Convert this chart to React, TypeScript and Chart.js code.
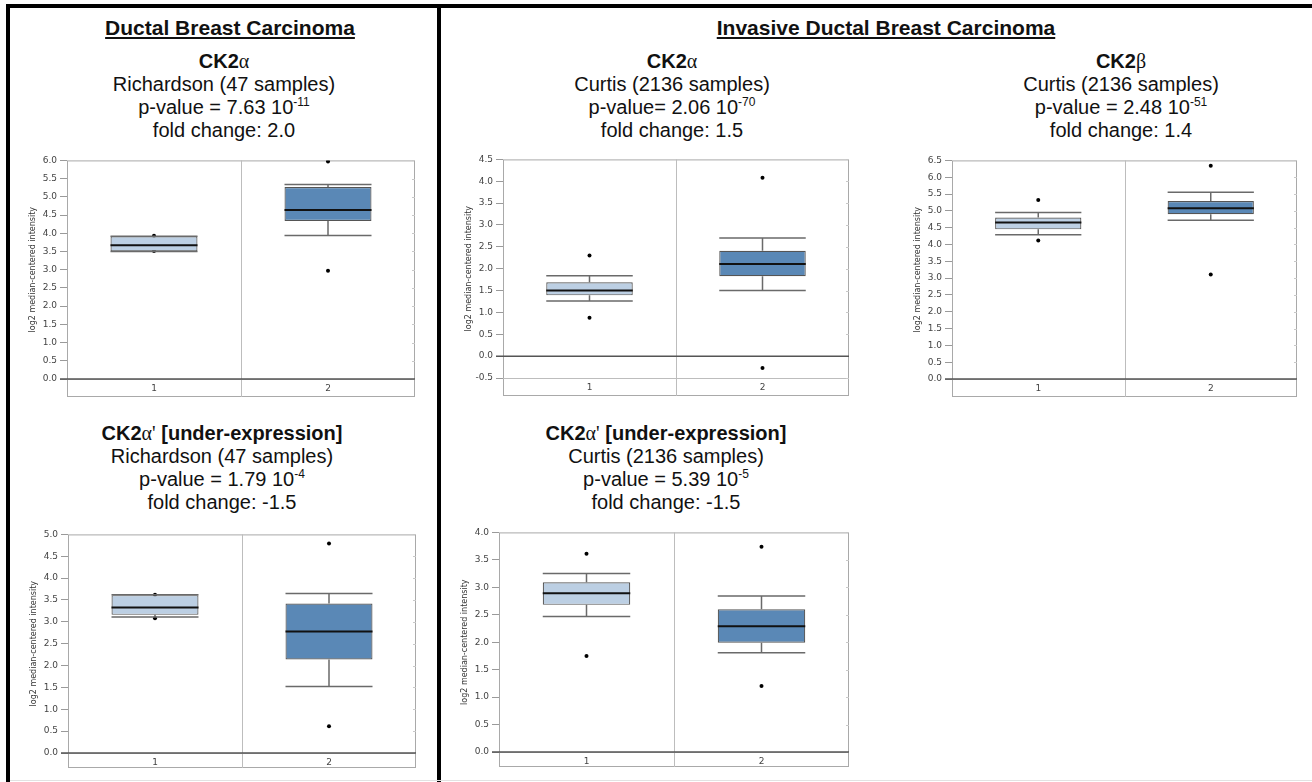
import React, { useEffect, useRef } from 'react';
import { Chart, registerables } from 'chart.js';

Chart.register(...registerables);

const CATEGORIES = ['1', '2'];

// Five-number summaries per group: [lower whisker, q1, median, q3, upper whisker]
const RICH_A_G1 = [3.5, 3.5, 3.67, 3.92, 3.92];
const RICH_A_G2 = [3.94, 4.34, 4.64, 5.27, 5.34];
const RICH_A_OUT_HIGH = [3.93, 5.97];
const RICH_A_OUT_LOW = [3.51, 2.97];
const RICH_A_TICKS = [0, 0.5, 1, 1.5, 2, 2.5, 3, 3.5, 4, 4.5, 5, 5.5, 6];

const CURT_A_G1 = [1.26, 1.39, 1.5, 1.69, 1.84];
const CURT_A_G2 = [1.5, 1.83, 2.11, 2.41, 2.7];
const CURT_A_OUT_HIGH = [2.3, 4.08];
const CURT_A_OUT_LOW = [0.88, -0.27];
const CURT_A_TICKS = [-0.5, 0, 0.5, 1, 1.5, 2, 2.5, 3, 3.5, 4, 4.5];

const CURT_B_G1 = [4.29, 4.45, 4.65, 4.8, 4.95];
const CURT_B_G2 = [4.72, 4.9, 5.08, 5.29, 5.55];
const CURT_B_OUT_HIGH = [5.32, 6.34];
const CURT_B_OUT_LOW = [4.12, 3.11];
const CURT_B_TICKS = [0, 0.5, 1, 1.5, 2, 2.5, 3, 3.5, 4, 4.5, 5, 5.5, 6, 6.5];

const RICH_AP_G1 = [3.11, 3.16, 3.33, 3.61, 3.62];
const RICH_AP_G2 = [1.52, 2.14, 2.78, 3.42, 3.65];
const RICH_AP_OUT_HIGH = [3.62, 4.79];
const RICH_AP_OUT_LOW = [3.08, 0.61];
const RICH_AP_TICKS = [0, 0.5, 1, 1.5, 2, 2.5, 3, 3.5, 4, 4.5, 5];

const CURT_AP_G1 = [2.47, 2.68, 2.89, 3.09, 3.25];
const CURT_AP_G2 = [1.81, 1.99, 2.29, 2.6, 2.84];
const CURT_AP_OUT_HIGH = [3.61, 3.74];
const CURT_AP_OUT_LOW = [1.75, 1.2];
const CURT_AP_TICKS = [0, 0.5, 1, 1.5, 2, 2.5, 3, 3.5, 4];

const Y_TITLE = 'log2 median-centered intensity';
const BOX_FILLS = ['#bccfe3', '#5a88b6'];

const SANS = '"Liberation Sans", Arial, sans-serif';
const GREEK = '"Liberation Serif", "DejaVu Serif", serif';
const AXIS_FONT = '"DejaVu Sans", sans-serif';

const Y_AXIS_W = 39;
const PAD = { left: 2, top: 8, right: 4, bottom: 3 };
const TICK_LEN = 7;

type Frame = { left: number; right: number; top: number; bottom: number; strip: number };

type BoxProps = {
  groups: number[][];
  outHigh: number[];
  outLow: number[];
  ticks: number[];
  frame: Frame;
};

// Frame, divider, zero line, whiskers and medians
const boxPlotPlugin = {
  id: 'boxPlotDecor',
  beforeDatasetsDraw(chart: any, _args: any, opts: any) {
    const { ctx, chartArea } = chart;
    const x = chart.scales.x;
    const y = chart.scales.y;
    const strip = opts.strip;
    const bottom = chartArea.bottom + strip;
    ctx.save();
    ctx.lineWidth = 1;
    ctx.strokeStyle = '#a9a9a9';
    ctx.strokeRect(chartArea.left + 0.5, chartArea.top + 0.5, chartArea.right - chartArea.left - 1, bottom - chartArea.top - 1);
    // boundary between plot and label strip
    ctx.strokeStyle = '#bdbdbd';
    ctx.beginPath();
    ctx.moveTo(chartArea.left, Math.round(chartArea.bottom) + 0.5);
    ctx.lineTo(chartArea.right, Math.round(chartArea.bottom) + 0.5);
    ctx.stroke();
    // divider between the two groups
    const mid = Math.round((x.getPixelForValue(0) + x.getPixelForValue(1)) / 2) + 0.5;
    ctx.beginPath();
    ctx.moveTo(mid, chartArea.top);
    ctx.lineTo(mid, bottom);
    ctx.stroke();
    // small inner ticks on the right edge
    ctx.strokeStyle = '#c8c8c8';
    y.ticks.forEach((t: any) => {
      const py = Math.round(y.getPixelForValue(t.value)) + 0.5;
      ctx.beginPath();
      ctx.moveTo(chartArea.right - 3, py);
      ctx.lineTo(chartArea.right, py);
      ctx.stroke();
    });
    // zero line
    const y0 = y.getPixelForValue(0);
    ctx.strokeStyle = '#555';
    ctx.lineWidth = 1.5;
    ctx.beginPath();
    ctx.moveTo(chartArea.left - TICK_LEN, y0);
    ctx.lineTo(chartArea.right, y0);
    ctx.stroke();
    ctx.restore();
  },
  afterDatasetDraw(chart: any, args: any, opts: any) {
    if (args.index !== 0) return;
    const { ctx } = chart;
    const y = chart.scales.y;
    const meta = chart.getDatasetMeta(0);
    const groups: number[][] = opts.groups;
    ctx.save();
    groups.forEach((g, i) => {
      const bar = meta.data[i];
      const cx = bar.x;
      const hw = bar.width / 2;
      const [lo, q1, med, q3, hi] = g.map((v) => y.getPixelForValue(v));
      ctx.strokeStyle = '#6a6a6a';
      ctx.lineWidth = 1.5;
      ctx.beginPath();
      ctx.moveTo(cx, q3);
      ctx.lineTo(cx, hi);
      ctx.moveTo(cx, q1);
      ctx.lineTo(cx, lo);
      ctx.moveTo(cx - hw, hi);
      ctx.lineTo(cx + hw, hi);
      ctx.moveTo(cx - hw, lo);
      ctx.lineTo(cx + hw, lo);
      ctx.stroke();
      ctx.strokeStyle = '#111';
      ctx.lineWidth = 2;
      ctx.beginPath();
      ctx.moveTo(cx - hw, med);
      ctx.lineTo(cx + hw, med);
      ctx.stroke();
    });
    ctx.restore();
  },
};

function BoxChart({ groups, outHigh, outLow, ticks, frame }: BoxProps) {
  const ref = useRef<HTMLCanvasElement | null>(null);
  const w = frame.right - frame.left + Y_AXIS_W + PAD.left + PAD.right;
  const h = frame.bottom - frame.top + frame.strip + PAD.top + PAD.bottom;

  useEffect(() => {
    if (!ref.current) return;
    const chart = new Chart(ref.current, {
      type: 'bar',
      data: {
        labels: CATEGORIES,
        datasets: [
          {
            type: 'bar',
            data: groups.map((g) => [g[1], g[3]]) as any,
            backgroundColor: BOX_FILLS,
            borderColor: '#555',
            borderWidth: 1.2,
            borderSkipped: false,
            barPercentage: 0.5,
            categoryPercentage: 1,
          },
          {
            type: 'line',
            data: outHigh,
            showLine: false,
            pointRadius: 2,
            pointBackgroundColor: '#000',
            pointBorderWidth: 0,
          },
          {
            type: 'line',
            data: outLow,
            showLine: false,
            pointRadius: 2,
            pointBackgroundColor: '#000',
            pointBorderWidth: 0,
          },
        ] as any,
      },
      options: {
        animation: false,
        responsive: false,
        layout: { padding: PAD },
        plugins: {
          legend: { display: false },
          tooltip: { enabled: false },
          boxPlotDecor: { groups, strip: frame.strip },
        } as any,
        scales: {
          x: {
            type: 'category',
            offset: true,
            grid: { display: false, drawTicks: false },
            border: { display: false },
            ticks: { font: { family: AXIS_FONT, size: 9 }, color: '#444', padding: 4 },
            afterFit: (s: any) => {
              s.height = frame.strip;
            },
          },
          y: {
            type: 'linear',
            min: ticks[0],
            max: ticks[ticks.length - 1],
            afterBuildTicks: (s: any) => {
              s.ticks = ticks.map((v) => ({ value: v }));
            },
            ticks: {
              font: { family: AXIS_FONT, size: 9 },
              color: '#444',
              padding: 3,
              callback: (v: any) => Number(v).toFixed(1),
            },
            grid: { drawOnChartArea: false, drawTicks: true, tickLength: TICK_LEN, color: '#9a9a9a' },
            border: { display: false },
            title: {
              display: true,
              text: Y_TITLE,
              font: { family: AXIS_FONT, size: 8 },
              color: '#333',
              padding: 0,
            },
            afterFit: (s: any) => {
              s.width = Y_AXIS_W;
            },
          },
        } as any,
      },
      plugins: [boxPlotPlugin],
    });
    return () => chart.destroy();
  }, []);

  return (
    <canvas
      ref={ref}
      width={w}
      height={h}
      style={{
        position: 'absolute',
        left: frame.left - Y_AXIS_W - PAD.left,
        top: frame.top - PAD.top,
        width: w,
        height: h,
      }}
    />
  );
}

const Sup = ({ children }: { children: React.ReactNode }) => (
  <sup style={{ fontSize: 12, lineHeight: 0, verticalAlign: 'super' }}>{children}</sup>
);

const Greek = ({ children }: { children: React.ReactNode }) => (
  <span style={{ fontFamily: GREEK, fontWeight: 'normal' }}>{children}</span>
);

function TextBlock({ cx, top, lines }: { cx: number; top: number; lines: React.ReactNode[] }) {
  return (
    <div
      style={{
        position: 'absolute',
        left: cx - 250,
        top,
        width: 500,
        textAlign: 'center',
        fontFamily: SANS,
        fontSize: 20,
        color: '#111',
        whiteSpace: 'nowrap',
      }}
    >
      {lines.map((l, i) => (
        <div key={i} style={{ height: 23, lineHeight: '23px' }}>
          {l}
        </div>
      ))}
    </div>
  );
}

function Heading({ cx, cy, text }: { cx: number; cy: number; text: string }) {
  return (
    <div
      style={{
        position: 'absolute',
        left: cx - 300,
        top: cy - 12,
        width: 600,
        height: 24,
        lineHeight: '24px',
        textAlign: 'center',
        fontFamily: SANS,
        fontWeight: 'bold',
        fontSize: 21,
        textDecoration: 'underline',
        color: '#111',
        whiteSpace: 'nowrap',
      }}
    >
      {text}
    </div>
  );
}

const bar = (left: number, top: number, width: number, height: number) => (
  <div style={{ position: 'absolute', left, top, width, height, background: '#000' }} />
);

export default function App() {
  return (
    <div
      style={{
        position: 'fixed',
        left: 0,
        top: 0,
        width: 1312,
        height: 782,
        background: '#fff',
        overflow: 'hidden',
        fontFamily: SANS,
      }}
    >
      {bar(6, 4, 1306, 4)}
      {bar(6, 4, 4, 778)}
      {bar(437, 4, 4, 778)}
      <div style={{ position: 'absolute', left: 10, top: 780, width: 1302, height: 1, background: '#e2e2e2' }} />

      <Heading cx={230} cy={28} text="Ductal Breast Carcinoma" />
      <Heading cx={886} cy={28} text="Invasive Ductal Breast Carcinoma" />

      <TextBlock
        cx={224}
        top={50}
        lines={[
          <b>CK2<Greek>α</Greek></b>,
          'Richardson (47 samples)',
          <>p-value = 7.63 10<Sup>-11</Sup></>,
          'fold change: 2.0',
        ]}
      />
      <TextBlock
        cx={672}
        top={50}
        lines={[
          <b>CK2<Greek>α</Greek></b>,
          'Curtis (2136 samples)',
          <>p-value= 2.06 10<Sup>-70</Sup></>,
          'fold change: 1.5',
        ]}
      />
      <TextBlock
        cx={1121}
        top={50}
        lines={[
          <b>CK2<Greek>β</Greek></b>,
          'Curtis (2136 samples)',
          <>p-value = 2.48 10<Sup>-51</Sup></>,
          'fold change: 1.4',
        ]}
      />
      <TextBlock
        cx={222}
        top={422}
        lines={[
          <b>CK2<Greek>α'</Greek> [under-expression]</b>,
          'Richardson (47 samples)',
          <>p-value = 1.79 10<Sup>-4</Sup></>,
          'fold change: -1.5',
        ]}
      />
      <TextBlock
        cx={666}
        top={422}
        lines={[
          <b>CK2<Greek>α'</Greek> [under-expression]</b>,
          'Curtis (2136 samples)',
          <>p-value = 5.39 10<Sup>-5</Sup></>,
          'fold change: -1.5',
        ]}
      />

      <BoxChart
        groups={[RICH_A_G1, RICH_A_G2]}
        outHigh={RICH_A_OUT_HIGH}
        outLow={RICH_A_OUT_LOW}
        ticks={RICH_A_TICKS}
        frame={{ left: 67, right: 415, top: 160, bottom: 379, strip: 18 }}
      />
      <BoxChart
        groups={[CURT_A_G1, CURT_A_G2]}
        outHigh={CURT_A_OUT_HIGH}
        outLow={CURT_A_OUT_LOW}
        ticks={CURT_A_TICKS}
        frame={{ left: 503, right: 849, top: 159, bottom: 378, strip: 18 }}
      />
      <BoxChart
        groups={[CURT_B_G1, CURT_B_G2]}
        outHigh={CURT_B_OUT_HIGH}
        outLow={CURT_B_OUT_LOW}
        ticks={CURT_B_TICKS}
        frame={{ left: 952, right: 1297, top: 160, bottom: 379, strip: 18 }}
      />
      <BoxChart
        groups={[RICH_AP_G1, RICH_AP_G2]}
        outHigh={RICH_AP_OUT_HIGH}
        outLow={RICH_AP_OUT_LOW}
        ticks={RICH_AP_TICKS}
        frame={{ left: 68, right: 416, top: 534, bottom: 753, strip: 15 }}
      />
      <BoxChart
        groups={[CURT_AP_G1, CURT_AP_G2]}
        outHigh={CURT_AP_OUT_HIGH}
        outLow={CURT_AP_OUT_LOW}
        ticks={CURT_AP_TICKS}
        frame={{ left: 499, right: 849, top: 532, bottom: 752, strip: 15 }}
      />
    </div>
  );
}
